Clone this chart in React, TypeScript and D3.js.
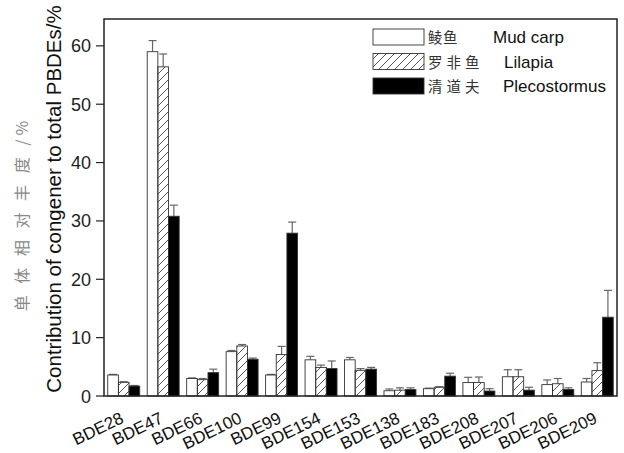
import React, { useEffect, useRef } from "react";
import * as d3 from "d3";

const categories = ["BDE28", "BDE47", "BDE66", "BDE100", "BDE99", "BDE154", "BDE153", "BDE138", "BDE183", "BDE208", "BDE207", "BDE206", "BDE209"];

// mean contribution (%) and upper error for each fish
const mudCarp = [3.6, 59.0, 3.0, 7.6, 3.6, 6.2, 6.2, 0.9, 1.25, 2.3, 3.3, 1.95, 2.4];
const mudCarpErr = [0.1, 1.9, 0.1, 0.2, 0.1, 0.6, 0.4, 0.3, 0.1, 0.9, 1.2, 0.8, 0.6];
const lilapia = [2.35, 56.4, 2.8, 8.57, 7.1, 4.9, 4.4, 1.0, 1.5, 2.3, 3.3, 2.1, 4.35];
const lilapiaErr = [0.1, 2.2, 0.2, 0.25, 1.4, 0.4, 0.3, 0.4, 0.1, 0.95, 1.2, 0.9, 1.35];
const pleco = [1.7, 30.8, 4.0, 6.3, 27.9, 4.7, 4.6, 1.1, 3.4, 0.85, 1.0, 1.1, 13.5];
const plecoErr = [0.1, 1.9, 0.6, 0.2, 1.9, 1.3, 0.3, 0.3, 0.5, 0.4, 0.5, 0.3, 4.6];

const seriesKeys = ["mud", "lila", "pleco"];
const legendCn = [["鲮", "鱼"], ["罗", "非", "鱼"], ["清", "道", "夫"]];
const legendEn = ["Mud carp", "Lilapia", "Plecostormus"];
const yTicks = [0, 10, 20, 30, 40, 50, 60];

const App = () => {
  const svgRef = useRef<SVGSVGElement>(null);

  useEffect(() => {
    const w = 624;
    const h = 453;
    const left = 104, right = 617, top = 19, bottom = 396;
    const font = "Liberation Sans, Arial, Helvetica, sans-serif";
    const cjk = "Noto Sans CJK SC, sans-serif";

    const svg = d3.select(svgRef.current).attr("width", w).attr("height", h);
    svg.selectAll("*").remove();

    // hatch pattern for the Lilapia bars
    svg.append("defs")
      .append("pattern")
      .attr("id", "hatch")
      .attr("patternUnits", "userSpaceOnUse")
      .attr("width", 8)
      .attr("height", 8)
      .append("path")
      .attr("d", "M-2,2 L2,-2 M0,8 L8,0 M6,10 L10,6")
      .attr("stroke", "#444")
      .attr("stroke-width", 0.9);

    const x = d3.scaleBand().domain(categories).range([left, right]).paddingInner(0.19).paddingOuter(0.095);
    const xs = d3.scaleBand().domain(seriesKeys).range([0, x.bandwidth()]);
    const y = d3.scaleLinear().domain([0, 64.6]).range([bottom, top]);

    const fills: Record<string, string> = { mud: "#fff", lila: "url(#hatch)", pleco: "#000" };
    const vals: Record<string, number[]> = { mud: mudCarp, lila: lilapia, pleco: pleco };
    const errs: Record<string, number[]> = { mud: mudCarpErr, lila: lilapiaErr, pleco: plecoErr };

    const rows = categories.flatMap((c, i) =>
      seriesKeys.map(k => ({ cat: c, key: k, v: vals[k][i], e: errs[k][i] }))
    );

    // error bars (upper only)
    const eb = svg.append("g").attr("stroke", "#666").attr("stroke-width", 1.2);
    rows.forEach(d => {
      const cx = x(d.cat)! + xs(d.key)! + xs.bandwidth() / 2;
      eb.append("line").attr("x1", cx).attr("x2", cx).attr("y1", y(d.v)).attr("y2", y(d.v + d.e));
      eb.append("line").attr("x1", cx - 4).attr("x2", cx + 4).attr("y1", y(d.v + d.e)).attr("y2", y(d.v + d.e));
    });

    // bars
    svg.append("g")
      .selectAll("rect")
      .data(rows)
      .join("rect")
      .attr("x", d => x(d.cat)! + xs(d.key)!)
      .attr("y", d => y(d.v))
      .attr("width", xs.bandwidth())
      .attr("height", d => bottom - y(d.v))
      .attr("fill", d => fills[d.key])
      .attr("stroke", "#333")
      .attr("stroke-width", 0.9);

    // frame
    svg.append("rect")
      .attr("x", left).attr("y", top)
      .attr("width", right - left).attr("height", bottom - top)
      .attr("fill", "none").attr("stroke", "#222").attr("stroke-width", 1.5);

    // y ticks
    const yt = svg.append("g").attr("font-family", font).attr("font-size", 18).attr("fill", "#222");
    yTicks.forEach(t => {
      yt.append("line").attr("x1", left - 8).attr("x2", left).attr("y1", y(t)).attr("y2", y(t)).attr("stroke", "#222").attr("stroke-width", 1.2);
      yt.append("text").attr("x", left - 13).attr("y", y(t) + 6.5).attr("text-anchor", "end").text(t);
    });

    // x labels
    svg.append("g")
      .selectAll("text")
      .data(categories)
      .join("text")
      .attr("transform", d => `translate(${x(d)! + x.bandwidth() / 2 + 1},${bottom + 26}) rotate(-26)`)
      .attr("text-anchor", "end")
      .attr("font-family", font)
      .attr("font-size", 17)
      .attr("fill", "#111")
      .text(d => d);

    // y titles
    svg.append("text")
      .attr("transform", `translate(28,${214}) rotate(-90)`)
      .attr("text-anchor", "middle")
      .attr("font-family", cjk)
      .attr("font-size", 16)
      .attr("letter-spacing", "4px")
      .attr("fill", "#888")
      .text("单 体 相 对 丰 度 /%");
    svg.append("text")
      .attr("transform", `translate(61,${199}) rotate(-90)`)
      .attr("text-anchor", "middle")
      .attr("font-family", font)
      .attr("font-size", 20.5)
      .attr("fill", "#111")
      .text("Contribution of congener to total PBDEs/%");

    // legend
    const lg = svg.append("g");
    const cnOffsets = [[0, 15], [0, 18.5, 37], [0, 18.5, 37]];
    const enX = [493, 504, 503];
    seriesKeys.forEach((k, i) => {
      const ry = 29 + i * 24.5;
      lg.append("rect").attr("x", 373).attr("y", ry).attr("width", 51).attr("height", 16)
        .attr("fill", fills[k]).attr("stroke", "#333").attr("stroke-width", 0.9);
      legendCn[i].forEach((ch, j) => {
        lg.append("text").attr("x", 428 + cnOffsets[i][j]).attr("y", ry + 14)
          .attr("font-family", cjk).attr("font-size", 14.5).attr("fill", "#333").text(ch);
      });
      lg.append("text").attr("x", enX[i]).attr("y", ry + 14)
        .attr("font-family", font).attr("font-size", 17).attr("fill", "#111").text(legendEn[i]);
    });
  }, []);

  return <svg ref={svgRef} style={{ position: "absolute", left: 0, top: 0 }} />;
};

export default App;
